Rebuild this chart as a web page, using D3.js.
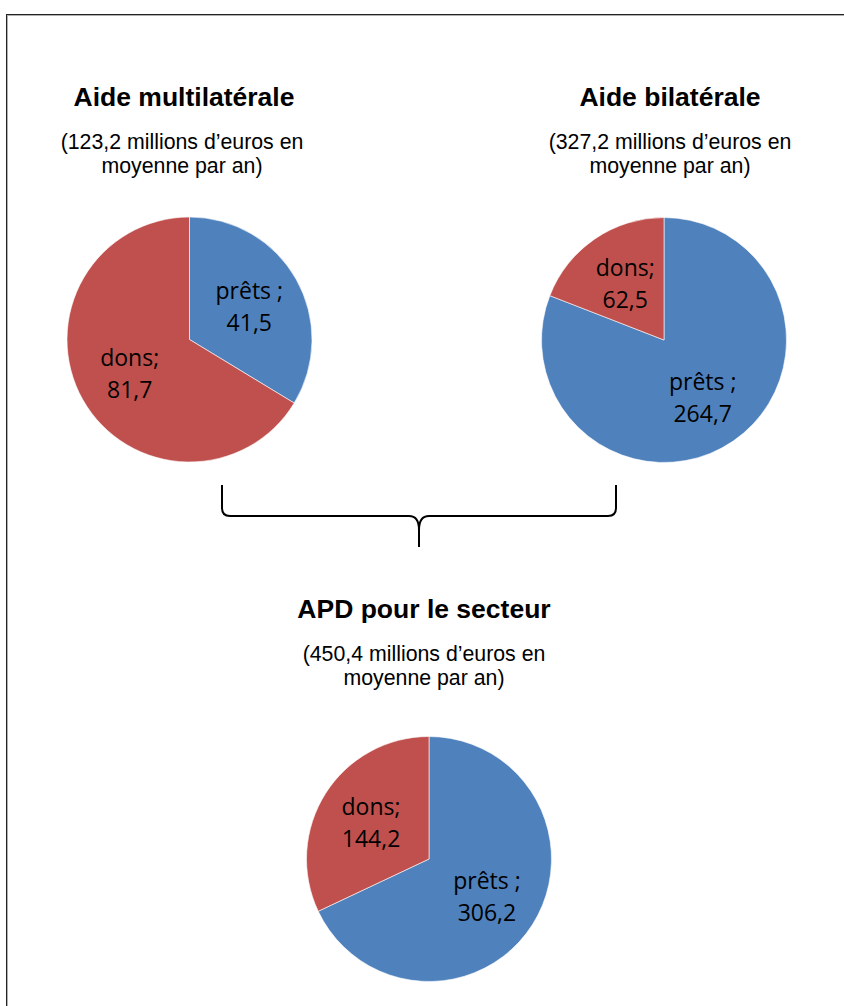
<!DOCTYPE html>
<html>
<head>
  <meta charset="utf-8">
  <script src="https://d3js.org/d3.v7.min.js"></script>
  <style>
    html, body { margin: 0; padding: 0; background: #fff; }
  </style>
</head>
<body>
  <div id="chart"></div>
  <script>
    // data
    var charts = ["multi", "bi", "total"];
    var titles = ["Aide multilatérale", "Aide bilatérale", "APD pour le secteur"];
    var totals = ["123,2", "327,2", "450,4"];
    var categories = ["prêts", "dons"];
    var multiValues = [41.5, 81.7];
    var biValues = [264.7, 62.5];
    var totalValues = [306.2, 144.2];
    var valueLabels = [["41,5", "81,7"], ["264,7", "62,5"], ["306,2", "144,2"]];

    var colors = d3.scaleOrdinal().domain(categories).range(["#4F81BD", "#C0504D"]);

    var width = 844, height = 1006;
    var svg = d3.select("#chart").append("svg")
      .attr("width", width)
      .attr("height", height);

    // frame (right and bottom edges fall outside the picture)
    svg.append("rect")
      .attr("x", 7.5).attr("y", 15.5)
      .attr("width", 900).attr("height", 1100)
      .attr("fill", "none").attr("stroke", "#b0b0b0").attr("stroke-width", 1);
    svg.append("rect")
      .attr("x", 6.5).attr("y", 14.5)
      .attr("width", 900).attr("height", 1100)
      .attr("fill", "none").attr("stroke", "#222").attr("stroke-width", 1);

    var layout = [
      { cx: 189.5, cy: 339.5, tx: 184, sx: 182, ty: 106 },
      { cx: 664, cy: 340, tx: 670, sx: 670, ty: 106 },
      { cx: 429, cy: 859, tx: 424, sx: 424, ty: 618 }
    ];
    var allValues = [multiValues, biValues, totalValues];
    var radius = 122.5;

    var pie = d3.pie().sort(null).value(d => d.value);
    var arc = d3.arc().innerRadius(0).outerRadius(radius);
    var labelArc = d3.arc().innerRadius(radius * 0.56).outerRadius(radius * 0.56);

    charts.forEach(function (name, k) {
      var pos = layout[k];

      // title + subtitle
      svg.append("text")
        .attr("x", pos.tx).attr("y", pos.ty)
        .attr("text-anchor", "middle")
        .attr("font-family", "Liberation Sans, Arial, sans-serif")
        .attr("font-weight", "bold")
        .attr("font-size", 26.5)
        .attr("fill", "#000")
        .text(titles[k]);

      var sub = svg.append("text")
        .attr("text-anchor", "middle")
        .attr("font-family", "Liberation Sans, Arial, sans-serif")
        .attr("font-size", 21.3)
        .attr("fill", "#000");
      sub.append("tspan").attr("x", pos.sx).attr("y", pos.ty + 43)
        .text("(" + totals[k] + " millions d\u2019euros en");
      sub.append("tspan").attr("x", pos.sx).attr("y", pos.ty + 67)
        .text("moyenne par an)");

      var data = categories.map((c, i) => ({ cat: c, value: allValues[k][i], label: valueLabels[k][i] }));

      var g = svg.append("g")
        .attr("transform", "translate(" + pos.cx + "," + pos.cy + ")");

      var arcs = pie(data);

      g.selectAll("path")
        .data(arcs)
        .enter().append("path")
        .attr("d", arc)
        .attr("fill", d => colors(d.data.cat))
        .attr("stroke", "#fff")
        .attr("stroke-width", 0.6);

      var lbl = g.selectAll("text.lbl")
        .data(arcs)
        .enter().append("text")
        .attr("class", "lbl")
        .attr("text-anchor", "middle")
        .attr("font-family", "Open Sans, Noto Sans, sans-serif")
        .attr("font-size", 23)
        .attr("fill", "#000");

      lbl.append("tspan")
        .attr("x", d => labelArc.centroid(d)[0])
        .attr("y", d => labelArc.centroid(d)[1] - 7)
        .text(d => d.data.cat === "prêts" ? "prêts ;" : "dons;");
      lbl.append("tspan")
        .attr("x", d => labelArc.centroid(d)[0])
        .attr("y", d => labelArc.centroid(d)[1] + 25)
        .text(d => d.data.label);
    });

    // brace joining the two upper pies
    var bx = d3.scaleLinear().domain([0, 1]).range([222, 616]);
    var bMid = (bx(0) + bx(1)) / 2;
    var bTop = 485, bBar = 516, bTip = 547;
    var brace = d3.path();
    brace.moveTo(bx(0), bTop);
    brace.lineTo(bx(0), bBar - 8);
    brace.quadraticCurveTo(bx(0), bBar, bx(0) + 8, bBar);
    brace.lineTo(bMid - 10, bBar);
    brace.quadraticCurveTo(bMid, bBar, bMid, bBar + 14);
    brace.lineTo(bMid, bTip);
    brace.moveTo(bx(1), bTop);
    brace.lineTo(bx(1), bBar - 8);
    brace.quadraticCurveTo(bx(1), bBar, bx(1) - 8, bBar);
    brace.lineTo(bMid + 10, bBar);
    brace.quadraticCurveTo(bMid, bBar, bMid, bBar + 14);
    svg.append("path")
      .attr("d", brace.toString())
      .attr("fill", "none")
      .attr("stroke", "#000")
      .attr("stroke-width", 2);
  </script>
</body>
</html>
